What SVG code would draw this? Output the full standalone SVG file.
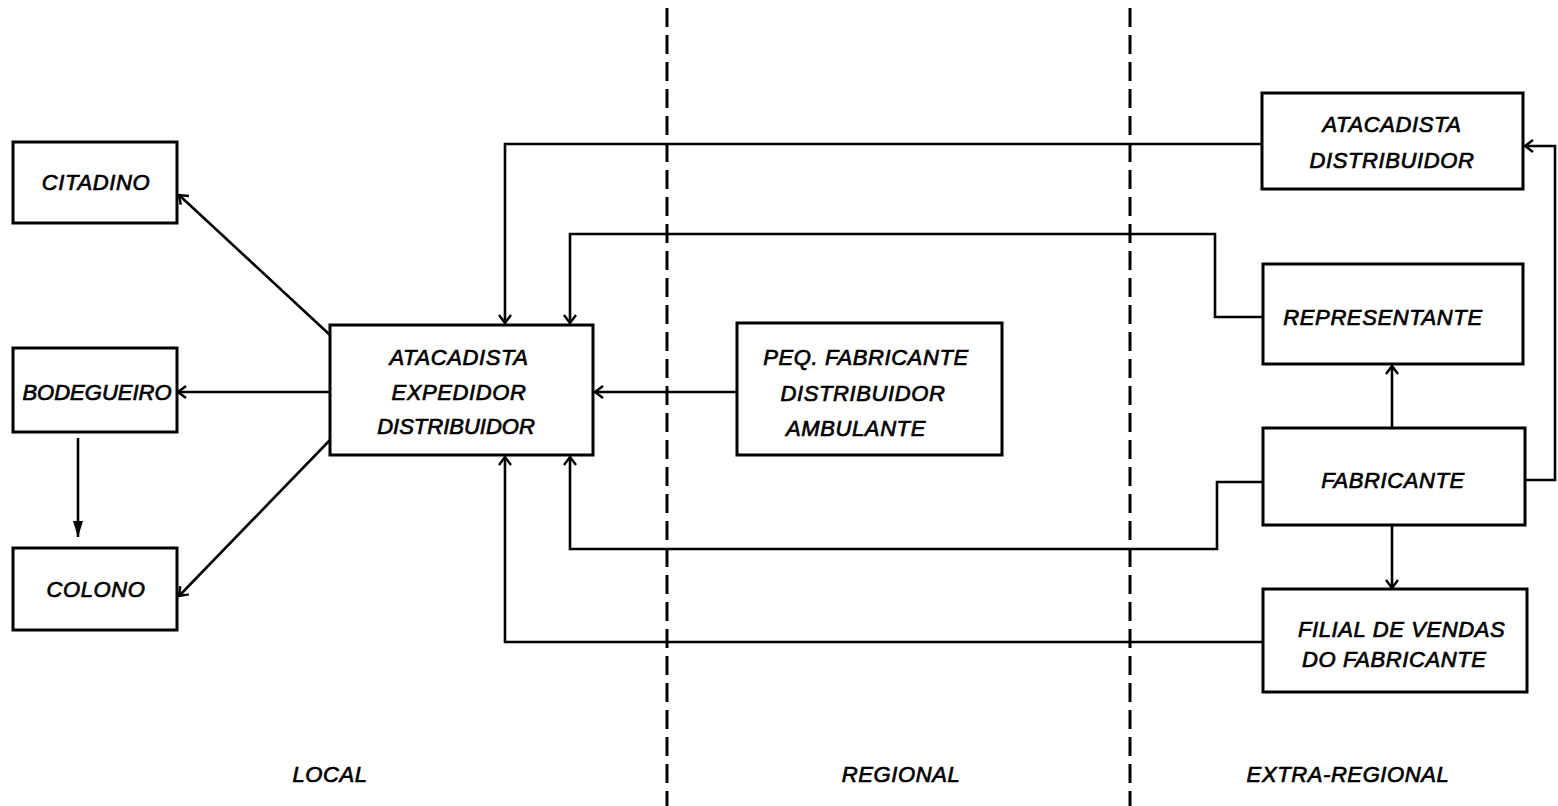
<svg xmlns="http://www.w3.org/2000/svg" width="1558" height="806" viewBox="0 0 1558 806">
  <style>
    .box { fill: #fff; stroke: #000; stroke-width: 3; }
    .lbl { font-family: "Liberation Sans", Arial, sans-serif; font-style: italic; font-weight: normal; font-size: 22px; fill: #000; stroke: #000; stroke-width: 0.7; letter-spacing: 0.6px; }
    .tight { letter-spacing: 0; }
    .mid { text-anchor: middle; }
    .edge { fill: none; stroke: #000; stroke-width: 2.6; }
    .zone { fill: none; stroke: #000; stroke-width: 3; stroke-dasharray: 19 8; }
  </style>
  <defs>
    <marker id="open" markerUnits="userSpaceOnUse" markerWidth="24" markerHeight="24" viewBox="-12 -12 24 24" refX="0" refY="0" orient="auto">
      <path d="M-8,-6 L0,0 L-8,6" fill="none" stroke="#000" stroke-width="2.4"/>
    </marker>
    <marker id="solid" markerUnits="userSpaceOnUse" markerWidth="30" markerHeight="30" viewBox="-18 -15 30 30" refX="0" refY="0" orient="auto">
      <path d="M-16,-5 L0,0 L-16,5 Z" fill="#000"/>
    </marker>
  </defs>

  <rect width="1558" height="806" fill="#fff"/>

  <!-- zone separators -->
  <g id="zones">
    <line class="zone" x1="667" y1="8" x2="667" y2="806"/>
    <line class="zone" x1="1130" y1="8" x2="1130" y2="806"/>
    <text class="lbl mid" x="330" y="782">LOCAL</text>
    <text class="lbl mid" x="901" y="782">REGIONAL</text>
    <text class="lbl mid" x="1348" y="782">EXTRA-REGIONAL</text>
  </g>

  <!-- connectors -->
  <g id="connectors">
    <line class="edge" x1="330" y1="335" x2="179" y2="195" marker-end="url(#open)"/>
    <line class="edge" x1="330" y1="392" x2="178" y2="392" marker-end="url(#open)"/>
    <line class="edge" x1="330" y1="440" x2="179" y2="596" marker-end="url(#open)"/>
    <line class="edge" x1="78" y1="438" x2="78" y2="537" marker-end="url(#solid)"/>
    <line class="edge" x1="737" y1="392" x2="595" y2="392" marker-end="url(#open)"/>
    <path class="edge" d="M1262,144 H505 V323" marker-end="url(#open)"/>
    <path class="edge" d="M1263,317 H1215 V234 H570 V323" marker-end="url(#open)"/>
    <path class="edge" d="M1263,482 H1217 V549 H570 V457" marker-end="url(#open)"/>
    <path class="edge" d="M1263,642 H505 V457" marker-end="url(#open)"/>
    <line class="edge" x1="1392" y1="428" x2="1392" y2="366" marker-end="url(#open)"/>
    <line class="edge" x1="1392" y1="525" x2="1392" y2="588" marker-end="url(#open)"/>
    <path class="edge" d="M1525,480 H1555 V146 H1525" marker-end="url(#open)"/>
  </g>

  <g id="citadino">
    <rect class="box" x="13" y="142" width="164" height="81"/>
    <text class="lbl mid" x="96" y="190">CITADINO</text>
  </g>
  <g id="bodegueiro">
    <rect class="box" x="13" y="348" width="164" height="84"/>
    <text class="lbl mid tight" x="97" y="400">BODEGUEIRO</text>
  </g>
  <g id="colono">
    <rect class="box" x="13" y="548" width="164" height="82"/>
    <text class="lbl mid" x="96" y="597">COLONO</text>
  </g>
  <g id="atacadista-expedidor">
    <rect class="box" x="330" y="325" width="263" height="130"/>
    <text class="lbl mid" x="459" y="365">ATACADISTA</text>
    <text class="lbl mid" x="459" y="400">EXPEDIDOR</text>
    <text class="lbl mid tight" x="456" y="434">DISTRIBUIDOR</text>
  </g>
  <g id="peq-fabricante">
    <rect class="box" x="737" y="323" width="265" height="132"/>
    <text class="lbl mid" x="866" y="365">PEQ. FABRICANTE</text>
    <text class="lbl mid" x="863" y="401">DISTRIBUIDOR</text>
    <text class="lbl mid" x="856" y="436">AMBULANTE</text>
  </g>
  <g id="atacadista-distribuidor">
    <rect class="box" x="1262" y="93" width="261" height="96"/>
    <text class="lbl mid" x="1392" y="132">ATACADISTA</text>
    <text class="lbl mid" x="1392" y="168">DISTRIBUIDOR</text>
  </g>
  <g id="representante">
    <rect class="box" x="1263" y="264" width="260" height="100"/>
    <text class="lbl mid" x="1383" y="325">REPRESENTANTE</text>
  </g>
  <g id="fabricante">
    <rect class="box" x="1263" y="428" width="262" height="97"/>
    <text class="lbl mid" x="1393" y="488">FABRICANTE</text>
  </g>
  <g id="filial">
    <rect class="box" x="1263" y="589" width="264" height="103"/>
    <text class="lbl" x="1298" y="637">FILIAL DE VENDAS</text>
    <text class="lbl" x="1302" y="667">DO FABRICANTE</text>
  </g>
</svg>
